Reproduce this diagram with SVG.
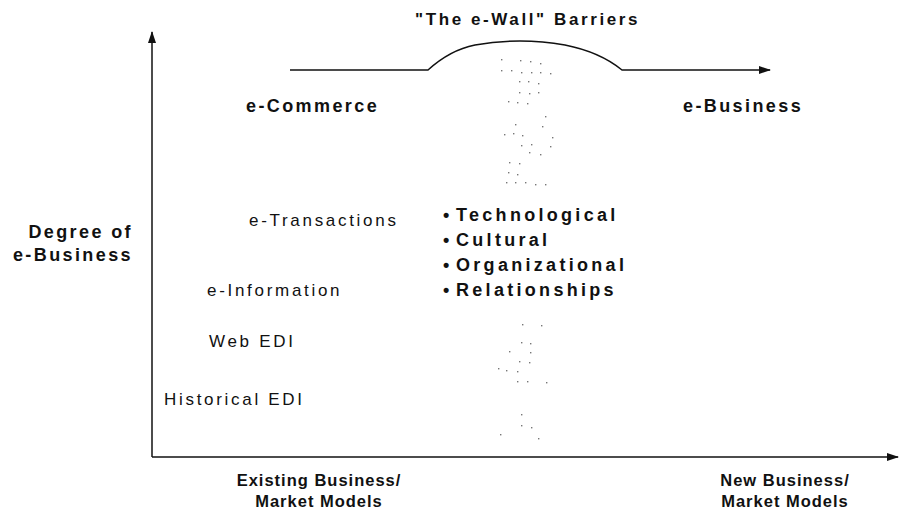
<svg xmlns="http://www.w3.org/2000/svg" width="901" height="511" viewBox="0 0 901 511">
<style>
  text { font-family: "Liberation Sans", Arial, Helvetica, sans-serif; fill: #111; }
  .b { font-weight: bold; font-size: 18px; letter-spacing: 2.4px; }
  .r { font-size: 17px; letter-spacing: 2.7px; }
  .t { font-weight: bold; font-size: 17px; letter-spacing: 2.6px; }
  .bl { font-weight: bold; font-size: 18px; letter-spacing: 3.3px; }
  .ax { font-weight: bold; font-size: 16.5px; letter-spacing: 1px; }
  .ln { fill: none; stroke: #111; stroke-width: 1.5; }
  .dot { fill: #777; }
</style>
<defs>
  <marker id="ah" markerWidth="12" markerHeight="10" refX="11" refY="5" orient="auto" markerUnits="userSpaceOnUse">
    <path d="M0,1 L12,5 L0,9 Z" fill="#111"/>
  </marker>
</defs>
<rect width="901" height="511" fill="#fff"/>

<g id="connectors">
  <path class="ln" d="M152,457 L152,32" marker-end="url(#ah)"/>
  <path class="ln" d="M152,457 L898,457" marker-end="url(#ah)"/>
  <path class="ln" d="M290,70 L428,70 Q450,50 475,45 Q520,37 565,45 Q600,52 622,70 L770,70" marker-end="url(#ah)"/>
</g>

<g id="wall-dots">
  <rect class="dot" x="501" y="59" width="1.4" height="1.4"/>
  <rect class="dot" x="520" y="60" width="1.4" height="1.4"/>
  <rect class="dot" x="530" y="61" width="1.4" height="1.4"/>
  <rect class="dot" x="540" y="63" width="1.4" height="1.4"/>
  <rect class="dot" x="501" y="70" width="1.4" height="1.4"/>
  <rect class="dot" x="511" y="70" width="1.4" height="1.4"/>
  <rect class="dot" x="521" y="72" width="1.4" height="1.4"/>
  <rect class="dot" x="531" y="72" width="1.4" height="1.4"/>
  <rect class="dot" x="540" y="72" width="1.4" height="1.4"/>
  <rect class="dot" x="550" y="73" width="1.4" height="1.4"/>
  <rect class="dot" x="519" y="81" width="1.4" height="1.4"/>
  <rect class="dot" x="528" y="81" width="1.4" height="1.4"/>
  <rect class="dot" x="538" y="83" width="1.4" height="1.4"/>
  <rect class="dot" x="519" y="92" width="1.4" height="1.4"/>
  <rect class="dot" x="529" y="93" width="1.4" height="1.4"/>
  <rect class="dot" x="538" y="92" width="1.4" height="1.4"/>
  <rect class="dot" x="508" y="101" width="1.4" height="1.4"/>
  <rect class="dot" x="517" y="102" width="1.4" height="1.4"/>
  <rect class="dot" x="527" y="103" width="1.4" height="1.4"/>
  <rect class="dot" x="545" y="116" width="1.4" height="1.4"/>
  <rect class="dot" x="515" y="124" width="1.4" height="1.4"/>
  <rect class="dot" x="542" y="126" width="1.4" height="1.4"/>
  <rect class="dot" x="504" y="134" width="1.4" height="1.4"/>
  <rect class="dot" x="513" y="133" width="1.4" height="1.4"/>
  <rect class="dot" x="522" y="135" width="1.4" height="1.4"/>
  <rect class="dot" x="552" y="137" width="1.4" height="1.4"/>
  <rect class="dot" x="521" y="145" width="1.4" height="1.4"/>
  <rect class="dot" x="531" y="144" width="1.4" height="1.4"/>
  <rect class="dot" x="550" y="146" width="1.4" height="1.4"/>
  <rect class="dot" x="529" y="152" width="1.4" height="1.4"/>
  <rect class="dot" x="540" y="154" width="1.4" height="1.4"/>
  <rect class="dot" x="509" y="162" width="1.4" height="1.4"/>
  <rect class="dot" x="519" y="163" width="1.4" height="1.4"/>
  <rect class="dot" x="508" y="172" width="1.4" height="1.4"/>
  <rect class="dot" x="517" y="174" width="1.4" height="1.4"/>
  <rect class="dot" x="506" y="182" width="1.4" height="1.4"/>
  <rect class="dot" x="515" y="182" width="1.4" height="1.4"/>
  <rect class="dot" x="525" y="182" width="1.4" height="1.4"/>
  <rect class="dot" x="535" y="184" width="1.4" height="1.4"/>
  <rect class="dot" x="545" y="184" width="1.4" height="1.4"/>
  <rect class="dot" x="522" y="324" width="1.4" height="1.4"/>
  <rect class="dot" x="541" y="325" width="1.4" height="1.4"/>
  <rect class="dot" x="521" y="342" width="1.4" height="1.4"/>
  <rect class="dot" x="530" y="343" width="1.4" height="1.4"/>
  <rect class="dot" x="509" y="351" width="1.4" height="1.4"/>
  <rect class="dot" x="530" y="352" width="1.4" height="1.4"/>
  <rect class="dot" x="519" y="361" width="1.4" height="1.4"/>
  <rect class="dot" x="529" y="362" width="1.4" height="1.4"/>
  <rect class="dot" x="498" y="368" width="1.4" height="1.4"/>
  <rect class="dot" x="506" y="370" width="1.4" height="1.4"/>
  <rect class="dot" x="517" y="371" width="1.4" height="1.4"/>
  <rect class="dot" x="517" y="381" width="1.4" height="1.4"/>
  <rect class="dot" x="527" y="381" width="1.4" height="1.4"/>
  <rect class="dot" x="546" y="382" width="1.4" height="1.4"/>
  <rect class="dot" x="521" y="414" width="1.4" height="1.4"/>
  <rect class="dot" x="521" y="425" width="1.4" height="1.4"/>
  <rect class="dot" x="531" y="427" width="1.4" height="1.4"/>
  <rect class="dot" x="500" y="434" width="1.4" height="1.4"/>
  <rect class="dot" x="538" y="438" width="1.4" height="1.4"/>
</g>

<g id="title"><text class="t" x="415" y="25">"The e-Wall" Barriers</text></g>
<g id="e-commerce"><text class="b" x="246" y="112">e-Commerce</text></g>
<g id="e-business"><text class="b" x="683" y="112">e-Business</text></g>
<g id="y-label">
  <text class="b" x="133" y="238" text-anchor="end">Degree of</text>
  <text class="b" x="133" y="261" text-anchor="end">e-Business</text>
</g>
<g id="e-transactions"><text class="r" x="249" y="226">e-Transactions</text></g>
<g id="e-information"><text class="r" x="207" y="296">e-Information</text></g>
<g id="web-edi"><text class="r" x="209" y="347">Web EDI</text></g>
<g id="historical-edi"><text class="r" x="164" y="405">Historical EDI</text></g>
<g id="barriers">
  <text class="bl" x="443" y="221">•<tspan x="456">Technological</tspan></text>
  <text class="bl" x="443" y="246">•<tspan x="456">Cultural</tspan></text>
  <text class="bl" x="443" y="271">•<tspan x="456">Organizational</tspan></text>
  <text class="bl" x="443" y="296">•<tspan x="456">Relationships</tspan></text>
</g>
<g id="x-label-existing">
  <text class="ax" x="319" y="486" text-anchor="middle">Existing Business/</text>
  <text class="ax" x="319" y="507" text-anchor="middle">Market Models</text>
</g>
<g id="x-label-new">
  <text class="ax" x="785" y="486" text-anchor="middle">New Business/</text>
  <text class="ax" x="785" y="507" text-anchor="middle">Market Models</text>
</g>
</svg>
